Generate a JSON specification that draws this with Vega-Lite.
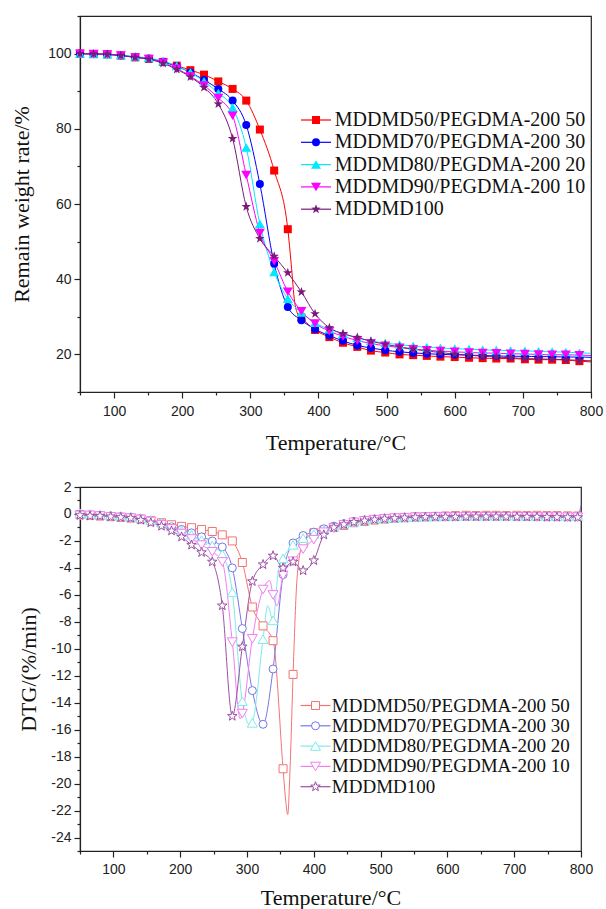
{
  "$schema": "https://vega.github.io/schema/vega-lite/v6.json",
  "background": "white",
  "padding": {"left": 10, "top": 8, "right": 5, "bottom": 0},
  "spacing": 25,
  "resolve": {
    "scale": {"stroke": "independent", "color": "independent", "shape": "independent"},
    "legend": {"stroke": "independent", "color": "independent", "shape": "independent"}
  },
  "config": {
    "view": {"stroke": "#222", "strokeWidth": 1.2},
    "axis": {"labelFont": "Liberation Sans", "labelFontSize": 14, "labelColor": "#222", "titleFont": "Liberation Serif", "titleFontSize": 22, "titleFontWeight": "normal", "titleColor": "#111", "domainColor": "#222", "tickColor": "#222", "grid": false, "labelFlush": false, "labelOverlap": false, "tickWidth": 1.2, "domainWidth": 1.2},
    "legend": {"labelFont": "Liberation Serif", "labelColor": "#111"}
  },
  "datasets": {
    "names": [
      {"k": "a", "series": "MDDMD50/PEGDMA-200 50"},
      {"k": "b", "series": "MDDMD70/PEGDMA-200 30"},
      {"k": "c", "series": "MDDMD80/PEGDMA-200 20"},
      {"k": "d", "series": "MDDMD90/PEGDMA-200 10"},
      {"k": "e", "series": "MDDMD100"}
    ],
    "tga": [
      {"T": 50, "a": 100, "b": 100, "c": 100, "d": 100, "e": 100},
      {"T": 70, "a": 99.9, "b": 99.9, "c": 99.9, "d": 99.9, "e": 99.9},
      {"T": 90, "a": 99.8, "b": 99.8, "c": 99.8, "d": 99.8, "e": 99.8},
      {"T": 110, "a": 99.5, "b": 99.5, "c": 99.6, "d": 99.5, "e": 99.5},
      {"T": 131, "a": 99.0, "b": 99.1, "c": 99.2, "d": 99.0, "e": 99.0},
      {"T": 151, "a": 98.6, "b": 98.7, "c": 98.8, "d": 98.6, "e": 98.5},
      {"T": 172, "a": 97.8, "b": 97.8, "c": 98.0, "d": 97.6, "e": 97.4},
      {"T": 192, "a": 96.8, "b": 96.6, "c": 96.7, "d": 96.0, "e": 95.8},
      {"T": 212, "a": 95.6, "b": 95.0, "c": 95.0, "d": 94.0, "e": 93.8},
      {"T": 232, "a": 94.4, "b": 93.0, "c": 92.6, "d": 91.5, "e": 91.0},
      {"T": 253, "a": 92.6, "b": 90.6, "c": 89.5, "d": 88.2, "e": 86.6},
      {"T": 274, "a": 90.6, "b": 87.5, "c": 85.6, "d": 83.5, "e": 77.4},
      {"T": 294, "a": 87.5, "b": 81.0, "c": 75.0, "d": 67.7, "e": 59.3},
      {"T": 314, "a": 79.8, "b": 65.3, "c": 54.7, "d": 52.3, "e": 50.8},
      {"T": 335, "a": 68.9, "b": 44.1, "c": 41.9, "d": 44.8, "e": 46.1},
      {"T": 355, "a": 53.3, "b": 32.6, "c": 34.8, "d": 36.7, "e": 41.7},
      {"T": 360, "a": 44},
      {"T": 365, "a": 34},
      {"T": 369, "a": 31},
      {"T": 375, "a": 29.8, "b": 29.1, "c": 31.1, "d": 31.5, "e": 36.6},
      {"T": 395, "a": 26.5, "b": 26.7, "c": 28.4, "d": 28.2, "e": 30.8},
      {"T": 416, "a": 24.6, "b": 25.0, "c": 26.7, "d": 26.2, "e": 27.1},
      {"T": 436, "a": 23.1, "b": 23.6, "c": 25.5, "d": 24.8, "e": 25.5},
      {"T": 457, "a": 22.0, "b": 22.4, "c": 24.4, "d": 23.7, "e": 24.5},
      {"T": 477, "a": 21.0, "b": 21.7, "c": 23.6, "d": 22.9, "e": 23.5},
      {"T": 498, "a": 20.5, "b": 21.1, "c": 23.0, "d": 22.3, "e": 22.7},
      {"T": 519, "a": 20.0, "b": 20.7, "c": 22.6, "d": 21.8, "e": 22.0},
      {"T": 539, "a": 19.8, "b": 20.4, "c": 22.2, "d": 21.4, "e": 21.4},
      {"T": 559, "a": 19.6, "b": 20.2, "c": 21.9, "d": 21.1, "e": 20.9},
      {"T": 579, "a": 19.4, "b": 20.0, "c": 21.7, "d": 20.9, "e": 20.5},
      {"T": 600, "a": 19.3, "b": 19.9, "c": 21.5, "d": 20.7, "e": 20.1},
      {"T": 621, "a": 19.1, "b": 19.8, "c": 21.4, "d": 20.5, "e": 19.8},
      {"T": 641, "a": 19.0, "b": 19.7, "c": 21.2, "d": 20.4, "e": 19.5},
      {"T": 661, "a": 18.9, "b": 19.6, "c": 21.1, "d": 20.3, "e": 19.3},
      {"T": 682, "a": 18.9, "b": 19.5, "c": 21.0, "d": 20.2, "e": 19.1},
      {"T": 703, "a": 18.7, "b": 19.5, "c": 20.9, "d": 20.1, "e": 18.9},
      {"T": 723, "a": 18.6, "b": 19.4, "c": 20.8, "d": 20.0, "e": 18.8},
      {"T": 743, "a": 18.6, "b": 19.4, "c": 20.7, "d": 19.9, "e": 18.7},
      {"T": 763, "a": 18.5, "b": 19.3, "c": 20.6, "d": 19.9, "e": 18.6},
      {"T": 783, "a": 18.2, "b": 19.3, "c": 20.4, "d": 19.8, "e": 18.4},
      {"T": 800, "a": 18.0, "b": 19.2, "c": 20.3, "d": 19.7, "e": 18.3}
    ],
    "dtg": [
      {"T": 50, "a": -0.05, "b": 0.0, "c": 0.05, "d": -0.1, "e": -0.1},
      {"T": 65, "a": -0.1, "b": -0.05, "c": 0.0, "d": -0.1, "e": -0.15},
      {"T": 80, "a": -0.15, "b": -0.1, "c": -0.05, "d": -0.15, "e": -0.15},
      {"T": 96, "a": -0.2, "b": -0.15, "c": -0.1, "d": -0.2, "e": -0.2},
      {"T": 111, "a": -0.25, "b": -0.2, "c": -0.15, "d": -0.25, "e": -0.25},
      {"T": 126, "a": -0.3, "b": -0.25, "c": -0.2, "d": -0.3, "e": -0.3},
      {"T": 141, "a": -0.38, "b": -0.35, "c": -0.3, "d": -0.4, "e": -0.45},
      {"T": 156, "a": -0.5, "b": -0.5, "c": -0.45, "d": -0.55, "e": -0.65},
      {"T": 172, "a": -0.65, "b": -0.7, "c": -0.65, "d": -0.8, "e": -0.9},
      {"T": 187, "a": -0.8, "b": -0.95, "c": -0.95, "d": -1.1, "e": -1.25},
      {"T": 202, "a": -0.92, "b": -1.15, "c": -1.25, "d": -1.45, "e": -1.7},
      {"T": 217, "a": -1.02, "b": -1.4, "c": -1.55, "d": -1.85, "e": -2.3},
      {"T": 232, "a": -1.15, "b": -1.7, "c": -1.95, "d": -2.3, "e": -2.85},
      {"T": 248, "a": -1.3, "b": -2.0, "c": -2.35, "d": -2.8, "e": -3.55},
      {"T": 263, "a": -1.55, "b": -2.45, "c": -3.0, "d": -3.55, "e": -6.8},
      {"T": 278, "a": -2.0, "b": -4.0, "c": -5.8, "d": -9.5, "e": -15.0},
      {"T": 290, "d": -15.2},
      {"T": 293, "a": -3.6, "b": -8.5, "c": -13.9, "d": -14.8, "e": -9.85},
      {"T": 305, "c": -15.7},
      {"T": 308, "a": -6.9, "b": -13.1, "c": -15.5, "d": -9.25, "e": -5.0},
      {"T": 324, "a": -8.3, "b": -15.6, "c": -9.3, "d": -5.6, "e": -3.75},
      {"T": 331, "c": -6.8},
      {"T": 334, "d": -4.95},
      {"T": 339, "a": -9.4, "b": -11.5, "c": -7.9, "d": -6.0, "e": -3.1},
      {"T": 345, "d": -6.8},
      {"T": 347, "c": -4.2},
      {"T": 354, "a": -18.9, "b": -4.5, "c": -3.3, "d": -4.55, "e": -4.0},
      {"T": 358, "a": -21.3},
      {"T": 361, "a": -22.3},
      {"T": 364, "a": -19.5},
      {"T": 369, "a": -11.9, "b": -2.15, "c": -2.3, "d": -3.5, "e": -3.55},
      {"T": 374, "a": -5.5},
      {"T": 378, "a": -3.3},
      {"T": 384, "a": -2.2, "b": -1.6, "c": -1.8, "d": -2.6, "e": -4.2},
      {"T": 400, "a": -1.4, "b": -1.35, "c": -1.5, "d": -1.9, "e": -3.45},
      {"T": 415, "a": -1.2, "b": -1.1, "c": -1.2, "d": -1.35, "e": -1.55},
      {"T": 430, "a": -1.0, "b": -0.9, "c": -0.95, "d": -1.05, "e": -1.0},
      {"T": 445, "a": -0.85, "b": -0.72, "c": -0.75, "d": -0.8, "e": -0.78},
      {"T": 460, "a": -0.65, "b": -0.55, "c": -0.6, "d": -0.62, "e": -0.6},
      {"T": 476, "a": -0.55, "b": -0.45, "c": -0.48, "d": -0.5, "e": -0.5},
      {"T": 491, "a": -0.45, "b": -0.38, "c": -0.4, "d": -0.42, "e": -0.42},
      {"T": 506, "a": -0.38, "b": -0.32, "c": -0.34, "d": -0.35, "e": -0.36},
      {"T": 521, "a": -0.32, "b": -0.28, "c": -0.3, "d": -0.3, "e": -0.32},
      {"T": 536, "a": -0.28, "b": -0.25, "c": -0.27, "d": -0.27, "e": -0.28},
      {"T": 552, "a": -0.22, "b": -0.22, "c": -0.24, "d": -0.24, "e": -0.25},
      {"T": 567, "a": -0.2, "b": -0.2, "c": -0.22, "d": -0.22, "e": -0.23},
      {"T": 582, "a": -0.18, "b": -0.2, "c": -0.2, "d": -0.2, "e": -0.22},
      {"T": 597, "a": -0.15, "b": -0.2, "c": -0.18, "d": -0.22, "e": -0.22},
      {"T": 612, "a": -0.12, "b": -0.2, "c": -0.17, "d": -0.2, "e": -0.22},
      {"T": 628, "a": -0.1, "b": -0.18, "c": -0.15, "d": -0.2, "e": -0.2},
      {"T": 643, "a": -0.12, "b": -0.18, "c": -0.15, "d": -0.2, "e": -0.2},
      {"T": 658, "a": -0.1, "b": -0.18, "c": -0.14, "d": -0.2, "e": -0.2},
      {"T": 673, "a": -0.1, "b": -0.17, "c": -0.14, "d": -0.2, "e": -0.2},
      {"T": 688, "a": -0.12, "b": -0.17, "c": -0.14, "d": -0.2, "e": -0.2},
      {"T": 704, "a": -0.1, "b": -0.18, "c": -0.14, "d": -0.2, "e": -0.22},
      {"T": 719, "a": -0.12, "b": -0.18, "c": -0.15, "d": -0.2, "e": -0.22},
      {"T": 734, "a": -0.1, "b": -0.18, "c": -0.15, "d": -0.22, "e": -0.22},
      {"T": 749, "a": -0.12, "b": -0.2, "c": -0.15, "d": -0.22, "e": -0.24},
      {"T": 764, "a": -0.12, "b": -0.2, "c": -0.16, "d": -0.22, "e": -0.24},
      {"T": 780, "a": -0.14, "b": -0.2, "c": -0.16, "d": -0.24, "e": -0.25},
      {"T": 795, "a": -0.15, "b": -0.2, "c": -0.16, "d": -0.24, "e": -0.25},
      {"T": 800, "a": -0.1, "b": 0.65, "c": 0.05, "d": 0.1, "e": 0.3}
    ]
  },
  "vconcat": [
    {
      "width": 511,
      "height": 376,
      "data": {"name": "tga"},
      "transform": [
        {"fold": ["a", "b", "c", "d", "e"], "as": ["k", "value"]},
        {"filter": "isValid(datum.value)"},
        {"lookup": "k", "from": {"data": {"name": "names"}, "key": "k", "fields": ["series"]}}
      ],
      "encoding": {
        "x": {"field": "T", "type": "quantitative", "scale": {"domain": [50, 800], "nice": false, "zero": false},
          "axis": {"title": "Temperature/°C", "values": [50,100,150,200,250,300,350,400,450,500,550,600,650,700,750,800],
            "labelExpr": "datum.value % 100 === 0 ? '' + datum.value : ''",
            "tickSize": {"condition": {"test": "datum.value % 100 === 0", "value": 6}, "value": 3},
            "labelPadding": 6, "titlePadding": 14}},
        "y": {"field": "value", "type": "quantitative", "scale": {"domain": [10, 110], "nice": false, "zero": false},
          "axis": {"title": "Remain weight rate/%", "values": [10,20,30,40,50,60,70,80,90,100,110],
            "labelExpr": "datum.value % 20 === 0 && datum.value <= 100 ? '' + datum.value : ''",
            "tickSize": {"condition": {"test": "datum.value % 20 === 0", "value": 6}, "value": 3},
            "labelPadding": 3, "titlePadding": 14}}
      },
      "layer": [
        {
          "mark": {"type": "line", "interpolate": "monotone", "strokeWidth": 1},
          "encoding": {
            "stroke": {"field": "series", "type": "nominal",
              "scale": {"domain": ["MDDMD50/PEGDMA-200 50", "MDDMD70/PEGDMA-200 30", "MDDMD80/PEGDMA-200 20", "MDDMD90/PEGDMA-200 10", "MDDMD100"],
                "range": ["#ff0000", "#0000ff", "#00eaff", "#ff00ff", "#7a1a7a"]},
              "legend": {"orient": "none", "legendX": 226, "legendY": 94, "title": null, "symbolType": "M-3.75,0H3.75", "symbolSize": 64, "symbolStrokeWidth": 1.2, "labelFontSize": 20, "labelOffset": 8.8, "rowPadding": 2.3, "padding": 0, "labelLimit": 400}}
          }
        },
        {
          "transform": [{"filter": {"not": {"field": "T", "oneOf": [360, 365, 369, 800]}}}],
          "mark": {"type": "point", "filled": true, "size": 64, "opacity": 1},
          "encoding": {
            "color": {"field": "series", "type": "nominal",
              "scale": {"range": ["#7a1a7a", "#ff0000", "#0000ff", "#00eaff", "#ff00ff"]},
              "legend": {"orient": "none", "legendX": 226, "legendY": 94, "title": null, "values": ["MDDMD50/PEGDMA-200 50", "MDDMD70/PEGDMA-200 30", "MDDMD80/PEGDMA-200 20", "MDDMD90/PEGDMA-200 10", "MDDMD100"], "symbolSize": 64, "symbolStrokeWidth": 0, "labelFontSize": 20, "labelOpacity": 0, "labelOffset": 8.8, "rowPadding": 2.3, "padding": 0, "labelLimit": 400}},
            "shape": {"field": "series", "type": "nominal",
              "scale": {"range": ["M0,-1.25L0.294,-0.405L1.189,-0.386L0.476,0.155L0.735,1.011L0,0.5L-0.735,1.011L-0.476,0.155L-1.189,-0.386L-0.294,-0.405Z", "square", "circle", "M0,-1.1L1.25,1.05L-1.25,1.05Z", "M0,1.1L1.25,-1.05L-1.25,-1.05Z"]},
              "legend": {"orient": "none", "legendX": 226, "legendY": 94, "title": null, "values": ["MDDMD50/PEGDMA-200 50", "MDDMD70/PEGDMA-200 30", "MDDMD80/PEGDMA-200 20", "MDDMD90/PEGDMA-200 10", "MDDMD100"], "symbolSize": 64, "symbolStrokeWidth": 0, "labelFontSize": 20, "labelOpacity": 0, "labelOffset": 8.8, "rowPadding": 2.3, "padding": 0, "labelLimit": 400}}
          }
        }
      ]
    },
    {
      "width": 501,
      "height": 364,
      "data": {"name": "dtg"},
      "transform": [
        {"fold": ["a", "b", "c", "d", "e"], "as": ["k", "value"]},
        {"filter": "isValid(datum.value)"},
        {"lookup": "k", "from": {"data": {"name": "names"}, "key": "k", "fields": ["series"]}}
      ],
      "encoding": {
        "x": {"field": "T", "type": "quantitative", "scale": {"domain": [50, 800], "nice": false, "zero": false},
          "axis": {"title": "Temperature/°C", "values": [50,100,150,200,250,300,350,400,450,500,550,600,650,700,750,800],
            "labelExpr": "datum.value % 100 === 0 ? '' + datum.value : ''",
            "tickSize": {"condition": {"test": "datum.value % 100 === 0", "value": 6}, "value": 3},
            "labelPadding": 5, "titlePadding": 11}},
        "y": {"field": "value", "type": "quantitative", "scale": {"domain": [-25, 2], "nice": false, "zero": false},
          "axis": {"title": "DTG/(%/min)", "values": [-25,-24,-23,-22,-21,-20,-19,-18,-17,-16,-15,-14,-13,-12,-11,-10,-9,-8,-7,-6,-5,-4,-3,-2,-1,0,1,2],
            "labelExpr": "datum.value % 2 === 0 ? '' + datum.value : ''",
            "tickSize": {"condition": {"test": "datum.value % 2 === 0", "value": 6}, "value": 3},
            "labelPadding": 3, "titlePadding": 10}}
      },
      "layer": [
        {
          "mark": {"type": "line", "interpolate": "monotone", "strokeWidth": 1},
          "encoding": {
            "stroke": {"field": "series", "type": "nominal",
              "scale": {"domain": ["MDDMD50/PEGDMA-200 50", "MDDMD70/PEGDMA-200 30", "MDDMD80/PEGDMA-200 20", "MDDMD90/PEGDMA-200 10", "MDDMD100"],
                "range": ["#f37373", "#7676e6", "#7eeaea", "#f27ef2", "#9c4fa3"]},
              "legend": {"orient": "none", "legendX": 226, "legendY": 209, "title": null, "symbolType": "M-3.75,0H3.75", "symbolSize": 64, "symbolStrokeWidth": 1.2, "labelFontSize": 19, "labelOffset": 6.8, "rowPadding": 0.3, "padding": 0, "labelLimit": 400}}
          }
        },
        {
          "transform": [{"filter": {"not": {"field": "T", "oneOf": [290, 305, 331, 334, 345, 347, 358, 361, 364, 374, 378, 800]}}}],
          "mark": {"type": "point", "filled": false, "fill": "white", "size": 64, "strokeWidth": 1, "opacity": 1},
          "encoding": {
            "color": {"field": "series", "type": "nominal",
              "scale": {"range": ["#9c4fa3", "#f37373", "#7676e6", "#7eeaea", "#f27ef2"]},
              "legend": {"orient": "none", "legendX": 226, "legendY": 209, "title": null, "values": ["MDDMD50/PEGDMA-200 50", "MDDMD70/PEGDMA-200 30", "MDDMD80/PEGDMA-200 20", "MDDMD90/PEGDMA-200 10", "MDDMD100"], "symbolSize": 64, "symbolStrokeWidth": 1, "symbolFillColor": "white", "labelFontSize": 19, "labelOpacity": 0, "labelOffset": 6.8, "rowPadding": 0.3, "padding": 0, "labelLimit": 400}},
            "shape": {"field": "series", "type": "nominal",
              "scale": {"range": ["M0,-1.25L0.294,-0.405L1.189,-0.386L0.476,0.155L0.735,1.011L0,0.5L-0.735,1.011L-0.476,0.155L-1.189,-0.386L-0.294,-0.405Z", "square", "circle", "M0,-1.1L1.25,1.05L-1.25,1.05Z", "M0,1.1L1.25,-1.05L-1.25,-1.05Z"]},
              "legend": {"orient": "none", "legendX": 226, "legendY": 209, "title": null, "values": ["MDDMD50/PEGDMA-200 50", "MDDMD70/PEGDMA-200 30", "MDDMD80/PEGDMA-200 20", "MDDMD90/PEGDMA-200 10", "MDDMD100"], "symbolSize": 64, "symbolStrokeWidth": 1, "symbolFillColor": "white", "labelFontSize": 19, "labelOpacity": 0, "labelOffset": 6.8, "rowPadding": 0.3, "padding": 0, "labelLimit": 400}}
          }
        }
      ]
    }
  ]
}
